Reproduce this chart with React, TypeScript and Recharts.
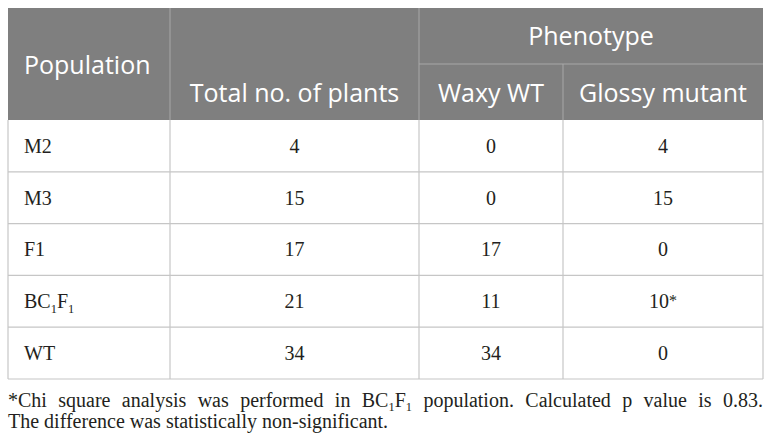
import { ScatterChart, Scatter, XAxis, YAxis, CartesianGrid, Customized } from 'recharts'

const populations = ['M2', 'M3', 'F1', 'BC_1F_1', 'WT']
const totalPlants = [4, 15, 17, 21, 34]
const waxyWT = [0, 0, 17, 11, 34]
const glossyMutant = [4, 15, 0, 10, 0]
const glossyNotes = ['', '', '', '*', '']
const columnHeaders = ['Population', 'Total no. of plants', 'Waxy WT', 'Glossy mutant']
const groupHeader = 'Phenotype'
const footnoteLines = [
  '*Chi square analysis was performed in BC_1F_1 population. Calculated p value is 0.83.',
  'The difference was statistically non-significant.',
]

// layout (page pixels)
const W = 772
const H = 446
const LEFT = 8
const RIGHT = 763
const HEAD_TOP = 8
const HEAD_MID = 64
const BODY_TOP = 120
const BODY_BOTTOM = 379
// column edges, measured from LEFT
const colEdges = [0, 162, 411, 555, 755]
const colCenter = (i: number) => (colEdges[i] + colEdges[i + 1]) / 2

const HEAD_FONT = '"Open Sans", sans-serif'
const BODY_FONT = '"Liberation Serif", serif'
const BODY_SIZE = 20
const NOTE_SIZE = 20
const TEXT_COLOR = '#231f20'
const HEAD_BG = '#7f7f7f'
const HEAD_LINE = '#a8a8a8'
const BODY_LINE = '#c6c6c6'

// 'BC_1F_1' -> BC, sub 1, F, sub 1
function richText(s: string, size: number) {
  const parts = s.split(/(_\d)/).filter(Boolean)
  let sub = false
  return parts.map((p, i) => {
    if (p.startsWith('_')) {
      sub = true
      return (
        <tspan key={i} style={{ fontSize: size * 0.62 }} dy={size * 0.22}>
          {p.slice(1)}
        </tspan>
      )
    }
    const back = sub
    sub = false
    return back ? (
      <tspan key={i} dy={-size * 0.22}>
        {p}
      </tspan>
    ) : (
      <tspan key={i}>{p}</tspan>
    )
  })
}

// measure a rich string (subscripts at smaller size)
function measure(s: string, size: number) {
  const ctx = document.createElement('canvas').getContext('2d')
  if (!ctx) return 0
  let w = 0
  s.split(/(_\d)/)
    .filter(Boolean)
    .forEach((p) => {
      const sz = p.startsWith('_') ? size * 0.62 : size
      ctx.font = `${sz}px "Liberation Serif"`
      w += ctx.measureText(p.replace('_', '')).width
    })
  return w
}

const rows = populations.map((p, i) => ({
  population: p,
  total: totalPlants[i],
  waxy: waxyWT[i],
  glossy: glossyMutant[i],
  note: glossyNotes[i],
}))

const popData = rows.map((r) => ({ ...r, col: 16, text: r.population, noted: false }))
const totalData = rows.map((r) => ({ ...r, col: colCenter(1), text: String(r.total), noted: false }))
const waxyData = rows.map((r) => ({ ...r, col: colCenter(2), text: String(r.waxy), noted: false }))
const glossyData = rows.map((r) => ({ ...r, col: colCenter(3), text: String(r.glossy), noted: true }))

const bodyStyle = { fontFamily: BODY_FONT, fontSize: BODY_SIZE, fill: TEXT_COLOR }

function PopLabel(props: any) {
  const { cx, cy, payload } = props
  return (
    <text x={cx} y={cy + BODY_SIZE * 0.34} textAnchor="start" style={bodyStyle}>
      {richText(payload.text, BODY_SIZE)}
    </text>
  )
}

function NumLabel(props: any) {
  const { cx, cy, payload } = props
  const note = payload.noted ? payload.note : ''
  return (
    <text x={cx} y={cy + BODY_SIZE * 0.34} textAnchor="middle" style={bodyStyle}>
      <tspan>{payload.text}</tspan>
      {note ? (
        <tspan style={{ fontSize: 16 }} dy={-2}>
          {note}
        </tspan>
      ) : null}
    </text>
  )
}

function Header() {
  const x = (e: number) => LEFT + e
  const txt = { fontFamily: HEAD_FONT, fontSize: 25, fill: '#ffffff' }
  return (
    <g>
      <rect x={LEFT} y={HEAD_TOP} width={RIGHT - LEFT} height={BODY_TOP - HEAD_TOP} fill={HEAD_BG} />
      <line x1={x(colEdges[1])} x2={x(colEdges[1])} y1={HEAD_TOP} y2={BODY_TOP} stroke={HEAD_LINE} />
      <line x1={x(colEdges[2])} x2={x(colEdges[2])} y1={HEAD_TOP} y2={BODY_TOP} stroke={HEAD_LINE} />
      <line x1={x(colEdges[2])} x2={RIGHT} y1={HEAD_MID} y2={HEAD_MID} stroke={HEAD_LINE} />
      <line x1={x(colEdges[3])} x2={x(colEdges[3])} y1={HEAD_MID} y2={BODY_TOP} stroke={HEAD_LINE} />
      <text x={LEFT + 16} y={74} textAnchor="start" style={txt}>
        {columnHeaders[0]}
      </text>
      <text x={x(colCenter(1))} y={102} textAnchor="middle" style={txt}>
        {columnHeaders[1]}
      </text>
      <text x={(x(colEdges[2]) + RIGHT) / 2} y={45} textAnchor="middle" style={txt}>
        {groupHeader}
      </text>
      <text x={x(colCenter(2))} y={102} textAnchor="middle" style={txt}>
        {columnHeaders[2]}
      </text>
      <text x={x(colCenter(3))} y={102} textAnchor="middle" style={txt}>
        {columnHeaders[3]}
      </text>
    </g>
  )
}

function Footnote() {
  const style = { fontFamily: BODY_FONT, fontSize: NOTE_SIZE, fill: TEXT_COLOR }
  // justify first line by widening the word gaps
  const first = footnoteLines[0]
  const gaps = first.split(' ').length - 1
  const natural = measure(first, NOTE_SIZE)
  const wordSpacing = gaps > 0 && natural > 0 ? Math.max(0, (RIGHT - LEFT - natural) / gaps) : 0
  return (
    <g>
      <text x={LEFT} y={407} style={{ ...style, wordSpacing }}>
        {richText(first, NOTE_SIZE)}
      </text>
      <text x={LEFT} y={428} style={style}>
        {footnoteLines[1]}
      </text>
    </g>
  )
}

export default function App() {
  const rowH = (BODY_BOTTOM - BODY_TOP) / populations.length
  const hPoints = populations.map((_, i) => BODY_TOP + (i + 1) * rowH)
  const vPoints = colEdges.map((e) => LEFT + e)
  return (
    <div style={{ position: 'absolute', left: 0, top: 0, width: W, height: H, background: '#fff' }}>
      <ScatterChart
        width={W}
        height={H}
        margin={{ top: BODY_TOP, left: LEFT, right: W - RIGHT, bottom: H - BODY_BOTTOM }}
      >
        <CartesianGrid
          stroke={BODY_LINE}
          strokeWidth={1.2}
          horizontalPoints={hPoints}
          verticalPoints={vPoints}
        />
        <XAxis type="number" dataKey="col" domain={[0, colEdges[colEdges.length - 1]]} hide />
        <YAxis type="category" dataKey="population" allowDuplicatedCategory={false} reversed hide />
        <Scatter data={popData} shape={<PopLabel />} isAnimationActive={false} />
        <Scatter data={totalData} shape={<NumLabel />} isAnimationActive={false} />
        <Scatter data={waxyData} shape={<NumLabel />} isAnimationActive={false} />
        <Scatter data={glossyData} shape={<NumLabel />} isAnimationActive={false} />
        <Customized component={<Header />} />
        <Customized component={<Footnote />} />
      </ScatterChart>
    </div>
  )
}
